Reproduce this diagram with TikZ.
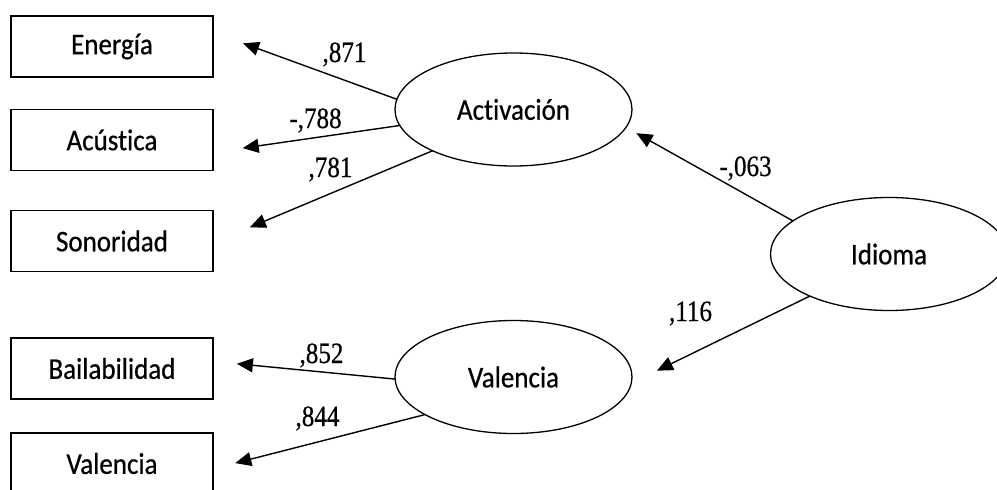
\documentclass[tikz,border=0pt]{standalone}
\usepackage{fontspec}
\setmainfont{Carlito}
\newfontfamily\nodefont[FakeStretch=0.9,FakeBold=0.6,Ligatures={NoCommon,NoRare}]{Carlito}
\newfontfamily\numfont[FakeStretch=0.85,FakeBold=0.5]{Liberation Serif}
\usetikzlibrary{arrows.meta,shapes.geometric}
\begin{document}
\begin{tikzpicture}[x=1pt,y=-1pt,
  box/.style={draw, line width=1.6pt, minimum width=202pt, minimum height=61pt,
    inner sep=0pt, outer sep=0pt, font=\nodefont\fontsize{30}{30}\selectfont},
  lat/.style={draw, ellipse, line width=1.3pt, minimum width=237pt, minimum height=113pt,
    inner sep=0pt, outer sep=0pt, font=\nodefont\fontsize{30}{30}\selectfont},
  arr/.style={line width=1.4pt, -{Triangle[length=16pt,width=14pt]}},
  lbl/.style={anchor=base, inner sep=0pt, font=\numfont\fontsize{29.5}{29.5}\selectfont}]
\useasboundingbox (0,0) rectangle (997,490);

% observed variables
\node[box] (en) at (112,46.5) {Energía};
\node[box] (ac) at (112,140) {Acústica};
\node[box] (so) at (112,241) {Sonoridad};
\node[box] (ba) at (112,368.5) {Bailabilidad};
\node[box] (va) at (112,463.5) {Valencia};

% latent variables
\node[lat] (act) at (513.5,109.5) {Activación};
\node[lat] (val) at (513.5,377) {Valencia};
\node[lat] (idi) at (889,254) {Idioma};

% connectors
\draw[arr, shorten >=32pt] (act.175) -- (en.8);
\draw[arr, shorten >=30pt] (act.188.5) -- (ac.-7);
\draw[arr, shorten >=40pt] (act.207) -- (so.-1.5);
\draw[arr, shorten >=24pt] (val.181.4) -- (ba.4.6);
\draw[arr, shorten >=23pt] (val.203.8) -- (va.-3.4);
\draw[arr, shorten >=12pt] (idi.161) -- (act.351.7);
\draw[arr, shorten >=28.5pt] (idi.208) -- (val.357.4);

% labels
\node[lbl] (l1) at (344.5,62) {,871};
\node[lbl] (l2) at (315.5,128) {-,788};
\node[lbl] (l3) at (330.5,177) {,781};
\node[lbl] (l4) at (321.5,363) {,852};
\node[lbl] (l5) at (317.5,426) {,844};
\node[lbl] (l6) at (745.5,176) {-,063};
\node[lbl] (l7) at (690.5,321) {,116};
\end{tikzpicture}
\end{document}
